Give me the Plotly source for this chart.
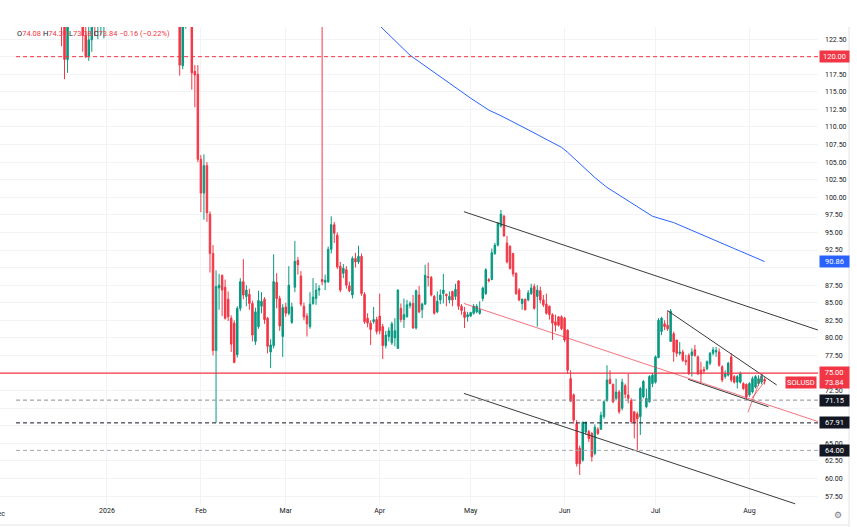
import plotly.graph_objects as go
import pandas as pd

# daily SOLUSD candles: (open, high, low, close)
dec_jan = [
    (138, 142, 134, 140), (140, 144, 137, 138), (138, 140, 130, 132), (132, 136, 128, 134),
    (134, 139, 131, 137), (137, 140, 133, 135), (135, 138, 131, 133), (133, 137, 130, 136),
    (136, 139, 132, 134), (134, 136, 129, 131), (131, 135, 128, 133), (133, 138, 131, 136),
    (136, 140, 133, 138), (138, 141, 134, 135), (135, 137, 130, 132), (132, 135, 128, 133),
    (133, 136, 129, 130), (130, 133, 126, 128), (128, 131, 125, 127), (127, 129, 125.2, 126),
    (126, 128, 124.6, 125.5), (125.5, 127, 121.5, 124.8), (124.8, 126, 116.8, 119.6),
    (119.6, 127, 117.7, 125.5), (125.5, 130, 124.8, 128), (128, 131, 126, 127),
    (127, 129, 125, 126), (126, 127.5, 124.6, 125.2), (125.2, 126, 120.7, 123),
    (123, 124.5, 119.8, 120), (120, 124.5, 119.4, 122.4), (122.4, 127, 120.7, 126),
    (126, 128, 122.9, 124.8), (124.8, 128, 122.5, 127), (127, 130, 123, 128),
    (128, 131, 122.6, 129), (129, 133, 127, 131), (131, 134, 128, 132), (132, 137, 130, 135),
    (135, 140, 133, 138), (138, 142, 135, 139), (139, 143, 136, 141), (141, 144, 137, 138),
    (138, 140, 134, 136), (136, 139, 133, 137), (137, 141, 135, 140), (140, 144, 138, 142),
    (142, 145, 139, 140), (140, 142, 136, 138), (138, 140, 134, 135), (135, 138, 132, 136),
    (136, 139, 133, 134), (134, 136, 130, 132), (132, 134, 128, 130), (130, 133, 127, 131),
    (131, 134, 128, 129), (129, 131, 126, 127), (127, 130, 125, 128), (128, 131, 125.5, 129),
    (129, 131, 124.8, 127), (127, 128, 117.3, 118.8), (118.7, 127, 118.2, 126),
    (126, 129, 124, 127), (127, 128.5, 124.6, 125), (125, 126, 115.3, 117.7),
    (117.9, 118.8, 112.8, 117.4),
]
feb_mar = [
    (117.5, 118.8, 105.0, 105.4), (105.4, 106.0, 97.9, 100.6), (100.6, 106.1, 96.8, 104.5),
    (104.5, 105.0, 96.5, 97.8), (97.6, 98.0, 89.3, 92.0), (92.0, 93.2, 77.5, 78.2),
    (78.2, 89.6, 67.91, 87.3), (87.1, 89.1, 84.0, 87.5), (88.9, 89.0, 83.1, 86.8),
    (87.2, 88.3, 82.6, 82.8), (85.5, 86.6, 82.4, 83.0), (82.8, 83.2, 78.0, 79.1),
    (82.1, 82.5, 76.4, 76.5), (77.6, 84.5, 77.2, 84.2), (84.2, 88.5, 83.8, 88.0),
    (88.0, 91.2, 85.5, 86.1), (85.9, 87.5, 84.5, 86.8), (86.2, 87.0, 84.0, 84.9),
    (84.9, 85.3, 79.5, 80.4), (79.5, 84.3, 79.0, 83.7), (81.6, 86.7, 81.3, 85.3),
    (84.5, 86.5, 83.5, 85.2), (85.5, 85.8, 82.0, 82.6), (82.8, 83.0, 77.8, 78.8),
    (78.0, 79.8, 75.7, 79.0), (78.9, 91.9, 78.5, 88.0), (87.9, 89.2, 84.2, 85.6),
    (85.6, 86.0, 81.0, 81.7), (80.2, 84.8, 77.3, 84.3), (84.4, 85.0, 83.0, 83.5),
    (83.5, 90.2, 83.2, 87.5), (82.2, 85.0, 82.0, 84.4), (87.2, 93.8, 86.5, 90.9),
    (91.0, 91.5, 89.0, 90.4), (88.8, 89.5, 84.5, 84.8), (84.5, 85.0, 82.5, 83.0),
    (83.1, 83.5, 80.2, 82.0), (81.6, 86.5, 81.3, 84.8), (84.9, 88.5, 84.7, 85.8),
    (85.6, 87.8, 84.7, 86.8), (86.8, 87.5, 86.0, 87.0), (88.3, 126.0, 87.5, 88.0),
    (87.9, 89.0, 86.8, 88.2), (88.0, 93.0, 87.8, 92.6), (92.6, 97.3, 92.0, 96.1),
    (96.1, 96.5, 93.5, 94.9), (94.6, 95.0, 89.8, 90.1), (90.2, 90.8, 86.5, 86.8),
    (89.2, 90.5, 88.5, 89.9), (89.7, 90.2, 87.0, 87.5), (87.4, 88.0, 86.5, 86.7),
    (86.1, 91.6, 85.6, 91.3), (91.3, 92.1, 90.0, 90.8), (90.8, 93.1, 90.5, 91.6),
    (91.6, 92.0, 86.0, 86.3), (86.2, 86.5, 82.0, 82.3), (82.8, 83.5, 81.5, 82.1),
    (82.1, 82.5, 79.0, 81.2), (82.3, 84.4, 82.0, 82.6), (82.6, 83.0, 80.5, 80.9),
]
apr_may = [
    (83.1, 86.3, 80.5, 81.0), (81.6, 82.0, 77.0, 78.9), (78.9, 81.0, 78.5, 80.4),
    (80.2, 81.5, 79.5, 81.0), (79.3, 82.3, 79.0, 82.0), (80.0, 82.8, 78.8, 81.0),
    (78.5, 86.9, 78.5, 86.8), (84.2, 84.9, 82.2, 82.6), (82.6, 85.6, 81.4, 83.3),
    (83.0, 85.4, 82.9, 84.7), (84.6, 85.2, 84.2, 84.9), (84.9, 86.1, 81.3, 81.4),
    (81.4, 86.9, 81.2, 86.7), (86.1, 87.4, 83.5, 83.7), (84.0, 85.0, 82.8, 84.8),
    (84.8, 90.4, 84.7, 88.9), (88.7, 90.7, 87.3, 88.6), (88.6, 88.8, 85.9, 86.1),
    (85.9, 86.1, 83.3, 83.5), (83.7, 86.6, 83.5, 85.2), (85.4, 86.9, 84.8, 86.1),
    (86.3, 89.1, 84.9, 86.8), (86.2, 86.3, 84.5, 86.0), (85.4, 86.6, 84.9, 85.9),
    (86.6, 86.7, 84.5, 85.4), (85.9, 87.7, 85.4, 86.9), (88.1, 88.2, 84.0, 84.5),
    (84.5, 84.8, 83.3, 83.9), (83.7, 84.4, 81.4, 82.9), (83.0, 83.7, 82.3, 83.3),
    (83.1, 83.7, 83.0, 83.6), (83.5, 84.8, 83.3, 84.5), (83.7, 84.8, 83.5, 84.5),
    (83.5, 85.2, 83.3, 84.0), (85.6, 87.3, 85.2, 87.1), (86.3, 89.9, 86.1, 89.7),
    (88.3, 88.5, 87.9, 88.1), (88.3, 92.7, 88.2, 92.1), (92.0, 93.5, 91.8, 93.2),
    (93.2, 96.5, 93.0, 96.3), (95.9, 98.2, 95.7, 97.6), (97.3, 97.5, 94.4, 94.5),
    (93.5, 94.5, 90.6, 90.8), (93.0, 93.2, 89.7, 89.9), (92.0, 92.1, 88.7, 89.1),
    (89.2, 89.3, 86.1, 86.3), (86.8, 87.1, 85.2, 85.4), (84.9, 85.6, 84.0, 85.5),
    (85.5, 85.6, 83.9, 84.0), (85.4, 86.8, 85.2, 86.4), (86.3, 87.7, 86.1, 87.1),
    (87.3, 87.7, 84.0, 84.2), (85.9, 87.5, 81.6, 86.8), (86.7, 87.3, 84.9, 85.4),
    (85.4, 86.1, 84.4, 84.7), (84.8, 86.3, 83.3, 83.5), (84.5, 84.6, 82.6, 83.3),
    (83.3, 83.5, 79.7, 82.1), (82.3, 83.3, 80.9, 81.8), (83.0, 83.1, 81.6, 81.8),
]
jun_aug = [
    (83.0, 83.2, 81.1, 81.3), (82.8, 83.0, 79.4, 79.7), (81.1, 81.2, 74.9, 75.4),
    (74.2, 75.4, 70.9, 71.0), (71.9, 72.1, 67.8, 68.3), (67.8, 68.3, 61.7, 62.1),
    (64.3, 64.7, 60.5, 62.1), (62.6, 68.1, 62.4, 68.0), (66.6, 68.1, 66.2, 68.0),
    (66.7, 66.9, 65.2, 65.7), (66.4, 66.6, 62.4, 63.1), (63.55, 67.7, 63.3, 67.3),
    (67.0, 67.3, 66.2, 66.4), (67.0, 69.5, 66.9, 69.0), (68.8, 71.1, 68.5, 70.9),
    (71.1, 76.1, 70.9, 74.0), (74.1, 75.4, 73.4, 73.5), (73.4, 73.5, 70.7, 70.9),
    (71.4, 74.2, 71.1, 72.3), (72.3, 72.6, 69.2, 69.5), (70.0, 74.2, 69.7, 73.7),
    (73.2, 73.5, 71.4, 72.0), (71.9, 74.9, 70.7, 71.4), (71.1, 71.4, 67.8, 68.1),
    (69.5, 69.5, 65.7, 68.0), (69.2, 69.5, 64.0, 68.5), (68.8, 73.0, 66.2, 72.8),
    (71.6, 74.0, 71.4, 73.8), (70.2, 72.8, 70.0, 71.4), (70.9, 74.7, 70.8, 74.5),
    (73.5, 75.0, 73.0, 74.7), (73.7, 77.5, 73.5, 77.3), (77.2, 82.8, 77.1, 82.5),
    (80.9, 83.0, 80.4, 82.8), (82.0, 82.5, 81.1, 81.6), (81.8, 83.8, 81.0, 81.3),
    (79.5, 84.1, 79.5, 83.8), (80.6, 80.9, 76.6, 78.0), (79.7, 79.7, 77.3, 77.8),
    (77.8, 79.4, 77.5, 78.0), (78.0, 78.3, 76.6, 76.8), (76.8, 77.6, 76.1, 76.6),
    (77.5, 77.8, 74.7, 74.9), (77.5, 78.5, 74.5, 78.0), (78.3, 79.0, 77.3, 77.5),
    (77.3, 77.5, 74.7, 74.9), (75.4, 76.6, 73.7, 74.9), (75.5, 75.9, 74.9, 75.3),
    (75.6, 76.8, 75.4, 76.6), (76.4, 78.0, 76.1, 77.8), (77.8, 78.7, 77.5, 78.3),
    (78.0, 78.7, 77.3, 78.2), (78.0, 78.5, 75.9, 76.1), (75.9, 76.1, 73.7, 74.0),
    (74.5, 75.4, 74.2, 74.9), (74.7, 76.6, 74.5, 76.4), (77.3, 77.8, 73.7, 74.0),
    (74.5, 74.7, 73.5, 73.7), (73.7, 74.7, 72.8, 74.5), (73.7, 75.2, 73.5, 74.9),
    (73.5, 73.7, 72.6, 72.8), (73.4, 73.5, 71.15, 71.6), (71.9, 73.7, 71.6, 73.5),
    (72.3, 74.5, 72.1, 74.2), (73.0, 74.7, 72.8, 74.5), (73.5, 74.7, 73.2, 74.2),
    (73.7, 74.8, 73.4, 74.6), (74.08, 74.39, 73.38, 73.84),
]
first_day = "2025-11-26"

# moving average (blue)
ma_dates = ["2026-03-27", "2026-04-01", "2026-04-11", "2026-04-20", "2026-05-01",
            "2026-05-07", "2026-05-11", "2026-05-20", "2026-05-31", "2026-06-02",
            "2026-06-11", "2026-06-15", "2026-06-24", "2026-06-30", "2026-07-07",
            "2026-07-16", "2026-07-27", "2026-08-06"]
ma_values = [126.6, 124.4, 120.2, 117.4, 114.1, 112.4, 111.6, 109.6, 107.1, 106.4,
             102.8, 101.4, 98.9, 97.3, 96.4, 94.7, 92.7, 90.86]

# drawn lines: ((date, price), (date, price))
channel_top = [("2026-04-28 19:00", 97.95), ("2026-08-23 14:00", 81.12)]
channel_mid = [("2026-04-28 19:00", 84.9), ("2026-08-23 14:00", 68.1)]
channel_bot = [("2026-04-28 19:00", 72.1), ("2026-08-16 02:00", 56.4)]
wedge_top = [("2026-07-04 22:00", 83.9), ("2026-08-10 00:00", 73.3)]
wedge_bot = [("2026-07-11 19:00", 74.1), ("2026-08-07 07:00", 70.2)]
flag_a = [("2026-07-31 12:00", 69.4), ("2026-08-05 07:00", 74.9)]
flag_b = [("2026-08-01 19:00", 71.4), ("2026-08-06 05:00", 73.9)]

level_120 = 120.0
level_75 = 75.0
level_7115 = 71.15
level_6791 = 67.91
level_64 = 64.0

x_start, x_end = "2025-11-26 17:00", "2026-08-23 15:00"
line_start = "2025-12-02"
y_lo, y_hi = 56.23, 124.22

rows = dec_jan + feb_mar + apr_may + jun_aug
df = pd.DataFrame(rows, columns=["open", "high", "low", "close"])
df["date"] = pd.date_range(first_day, periods=len(df), freq="D")

RED = "#F23645"
GREEN = "#089981"
DARK = "#131722"
FONT = "Roboto"

fig = go.Figure()

for seg, col in [(channel_top, "#3a3a3a"), (channel_bot, "#3a3a3a"),
                 (channel_mid, "rgba(242,54,69,0.7)"), (wedge_top, "#3a3a3a"),
                 (wedge_bot, "#3a3a3a"), (flag_a, "rgba(242,54,69,0.7)"),
                 (flag_b, "rgba(242,54,69,0.7)")]:
    fig.add_trace(go.Scatter(x=[p[0] for p in seg], y=[p[1] for p in seg], mode="lines",
                             line=dict(color=col, width=1), hoverinfo="skip", showlegend=False))

fig.add_trace(go.Scatter(x=ma_dates, y=ma_values, mode="lines",
                         line=dict(color="#2962FF", width=1), showlegend=False))

fig.add_trace(go.Candlestick(
    x=df["date"], open=df["open"], high=df["high"], low=df["low"], close=df["close"],
    increasing=dict(line=dict(color=GREEN, width=1), fillcolor=GREEN),
    decreasing=dict(line=dict(color=RED, width=1), fillcolor=RED),
    whiskerwidth=0, showlegend=False))

# horizontal levels
def hline(y, color, dash, x0=line_start, width=1):
    fig.add_shape(type="line", xref="x", yref="y", x0=x0, x1=x_end, y0=y, y1=y,
                  line=dict(color=color, width=width, dash=dash), layer="above")

hline(level_120, RED, "4px,3px")
hline(level_75, RED, "solid", x0=x_start, width=1.3)
hline(level_7115, "#8a8d96", "4px,3px")
hline(level_6791, DARK, "4px,3px")
hline(level_64, "#a3a6af", "4px,3px")

# price tags on the axis
def tag(y, text, bg):
    fig.add_annotation(xref="paper", yref="y", x=1, y=y, xanchor="left", xshift=1,
                       text=text, showarrow=False, bgcolor=bg, width=27, borderpad=1,
                       font=dict(color="white", size=7.5, family=FONT))

tag(level_120, "120.00", RED)
tag(ma_values[-1], "90.86", "#2962FF")
tag(74.42, "75.00<br>73.84", RED)
tag(level_7115, "71.15", DARK)
tag(level_6791, "67.91", DARK)
tag(level_64, "64.00", DARK)

fig.add_annotation(xref="paper", yref="y", x=1, y=73.66, xanchor="right", xshift=-1,
                   text="SOLUSD", showarrow=False, bgcolor=RED, borderpad=1,
                   font=dict(color="white", size=7.5, family=FONT))

# OHLC legend line
fig.add_annotation(
    xref="paper", yref="paper", x=15 / 818, y=0.987, xanchor="left", yanchor="middle",
    showarrow=False, font=dict(size=7.5, family=FONT, color=RED),
    text=(f'<span style="color:{DARK}">O</span>74.08 <span style="color:{DARK}">H</span>74.39 '
          f'<span style="color:{DARK}">L</span>73.38 <span style="color:{DARK}">C</span>73.84 '
          '−0.16 (−0.22%)'))

# clipped "Dec" label at the left edge and the settings icon
fig.add_annotation(xref="paper", yref="paper", x=-1 / 818, y=0, xanchor="center",
                   yanchor="top", yshift=-3, text="Dec", showarrow=False,
                   font=dict(size=7, family=FONT, color=DARK))
fig.add_annotation(xref="paper", yref="paper", x=838 / 818, y=0, xanchor="center",
                   yanchor="top", yshift=-3, text="⚙", showarrow=False,
                   font=dict(size=9, family="DejaVu Sans", color="#787B86"))

fig.add_shape(type="line", xref="paper", yref="paper", x0=849 / 818, x1=849 / 818,
              y0=1, y1=-0.05, line=dict(color="#e0e3eb", width=1))
fig.add_shape(type="line", xref="paper", yref="paper", x0=0, x1=849 / 818,
              y0=-0.0418, y1=-0.0418, line=dict(color="#e0e3eb", width=1))

month_ticks = ["2026-01-01", "2026-02-01", "2026-03-01", "2026-04-01", "2026-05-01",
               "2026-06-01", "2026-07-01", "2026-08-01"]
month_text = ["2026", "Feb", "Mar", "Apr", "May", "Jun", "Jul", "Aug"]
price_ticks = [57.5 + 2.5 * i for i in range(27)]
# labels hidden behind the price tags
hidden_ticks = [67.5, 70.0, 75.0, 90.0, 120.0]
price_text = ["" if t in hidden_ticks else f"{t:.2f}" for t in price_ticks]

fig.update_layout(
    width=857, height=527,
    margin=dict(l=0, r=39, t=27, b=22),
    paper_bgcolor="white", plot_bgcolor="white",
    font=dict(family=FONT, size=7, color=DARK),
    xaxis=dict(range=[x_start, x_end], rangeslider=dict(visible=False),
               tickvals=month_ticks, ticktext=month_text, showgrid=True,
               gridcolor="#f2f3f6", zeroline=False, showline=False, ticks=""),
    yaxis=dict(range=[y_lo, y_hi], side="right", tickvals=price_ticks, ticktext=price_text,
               showgrid=True, gridcolor="#f2f3f6", zeroline=False,
               ticks="", ticklabelstandoff=6),
    hovermode=False,
)

fig.write_html("out.html", config={"displayModeBar": False},
               post_script="document.body.style.margin='0';")
